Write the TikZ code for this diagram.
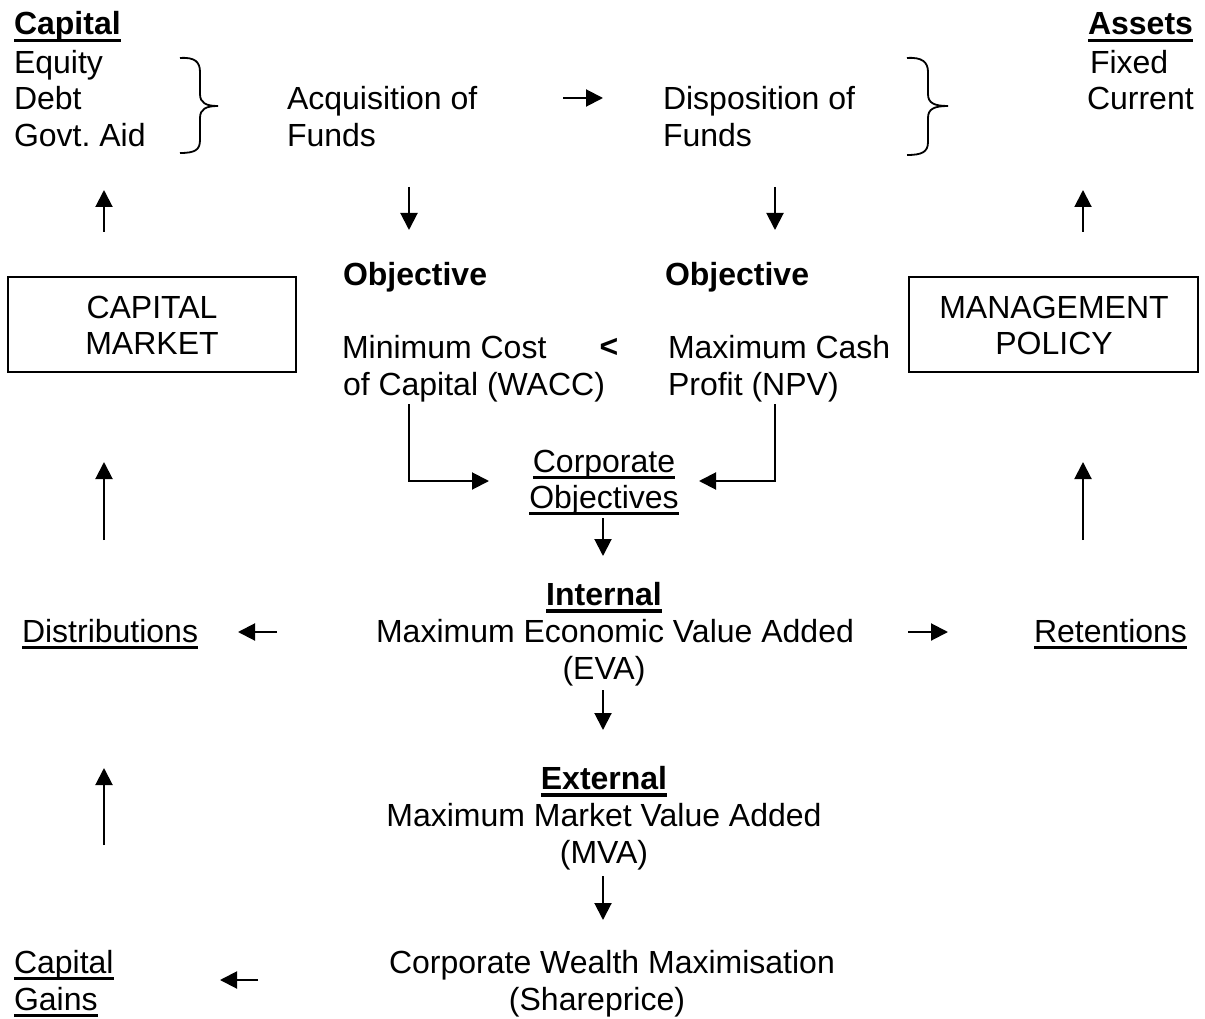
\documentclass[tikz,border=0pt]{standalone}
\usepackage{fontspec}
\setmainfont{Liberation Sans}
\usetikzlibrary{arrows.meta}
\frenchspacing
\newcommand\myul[1]{\setbox0\hbox{#1}\rlap{\rule[-6.5pt]{\wd0}{2.5pt}}\box0}
\newcommand\mybul[1]{\setbox0\hbox{#1}\rlap{\rule[-7.5pt]{\wd0}{3.2pt}}\box0}
\begin{document}
\begin{tikzpicture}[x=1pt,y=-1pt,
  txt/.style={inner sep=0pt,outer sep=0pt,font=\fontsize{32}{36.8}\selectfont},
  lt/.style={txt,anchor=base west},
  ct/.style={txt,anchor=base},
  rt/.style={txt,anchor=base east},
  arr/.style={line width=2pt,-{Triangle[length=17pt,width=17pt]}},
  brace/.style={line width=1.8pt},
  boxx/.style={draw,line width=1.6pt}]
\useasboundingbox (0,0) rectangle (1205,1019);
% top left
\node[lt] (cap) at (14,35) {\mybul{\textbf{Capital}}};
\node[lt] (eq) at (14,74) {Equity};
\node[lt] (debt) at (14,110) {Debt};
\node[lt] (govt) at (14,147) {Govt.\ Aid};
\draw[brace] (180,58) .. controls (195,57) and (200,62) .. (200,72) -- (200,94)
  .. controls (200,103) and (206,106) .. (218,106)
  .. controls (206,106) and (200,109) .. (200,118) -- (200,140)
  .. controls (200,150) and (195,153) .. (180,153);
\node[lt] (acq1) at (287,110) {Acquisition of};
\node[lt] (acq2) at (287,147) {Funds};
\coordinate (a5s) at (563,98); \coordinate (a5e) at (603,98);
\draw[arr] (a5s) -- (a5e);
\node[lt] (dis1) at (663,110) {Disposition of};
\node[lt] (dis2) at (663,147) {Funds};
\draw[brace] (907,58) .. controls (922,57) and (928,62) .. (928,72) -- (928,94)
  .. controls (928,103) and (934,106) .. (948,106)
  .. controls (934,106) and (928,109) .. (928,118) -- (928,142)
  .. controls (928,152) and (922,155) .. (907,155);
\node[rt] (assets) at (1193,35) {\mybul{\textbf{Assets}}};
\node[lt] (fixed) at (1090,74) {Fixed};
\node[lt] (curr) at (1087,110) {Current};
% vertical arrows row 1
\coordinate (a1s) at (104,232); \coordinate (a1e) at (104,190);
\coordinate (a2s) at (409,187); \coordinate (a2e) at (409,230);
\coordinate (a3s) at (775,187); \coordinate (a3e) at (775,230);
\coordinate (a4s) at (1083,232); \coordinate (a4e) at (1083,190);
\draw[arr] (a1s) -- (a1e);
\draw[arr] (a2s) -- (a2e);
\draw[arr] (a3s) -- (a3e);
\draw[arr] (a4s) -- (a4e);
% boxes
\node[boxx,minimum width=288pt,minimum height=95pt,inner sep=0pt] (cm) at (152,324.5) {};
\node[ct] (cm1) at (152,318) {CAPITAL};
\node[ct] (cm2) at (152,354) {MARKET};
\node[boxx,minimum width=289pt,minimum height=95pt,inner sep=0pt] (mp) at (1053.5,324.5) {};
\node[ct] (mp1) at (1054,318) {MANAGEMENT};
\node[ct] (mp2) at (1054,354) {POLICY};
% objectives
\node[lt] (obj1) at (343,285) {\textbf{Objective}};
\node[lt] (obj2) at (665,285) {\textbf{Objective}};
\node[lt] (min1) at (342,358) {Minimum Cost};
\node[lt] (min2) at (343,395) {of Capital (WACC)};
\node[ct] (lt) at (609,357) {\textbf{<}};
\node[lt] (max1) at (668,358) {Maximum Cash};
\node[lt] (max2) at (668,395) {Profit (NPV)};
% corporate objectives
\node[ct] (co1) at (604,472) {\myul{Corporate}};
\node[ct] (co2) at (604,508) {\myul{Objectives}};
\coordinate (e1s) at (409,404); \coordinate (e1e) at (489,481);
\coordinate (e2s) at (775,404); \coordinate (e2e) at (699,481);
\draw[arr] (e1s) |- (e1e);
\draw[arr] (e2s) |- (e2e);
\coordinate (a11s) at (603,518); \coordinate (a11e) at (603,556);
\draw[arr] (a11s) -- (a11e);
% internal
\node[ct] (int) at (604,605) {\mybul{\textbf{Internal}}};
\node[ct] (eva1) at (615,642) {Maximum Economic Value Added};
\node[ct] (eva2) at (604,679) {(EVA)};
\node[lt] (distr) at (22,642) {\myul{Distributions}};
\node[lt] (ret) at (1034,642) {\myul{Retentions}};
\coordinate (a14s) at (277,632); \coordinate (a14e) at (238,632);
\coordinate (a15s) at (908,632); \coordinate (a15e) at (948,632);
\draw[arr] (a14s) -- (a14e);
\draw[arr] (a15s) -- (a15e);
\coordinate (a6s) at (104,540); \coordinate (a6e) at (104,462);
\coordinate (a7s) at (1083,540); \coordinate (a7e) at (1083,462);
\draw[arr] (a6s) -- (a6e);
\draw[arr] (a7s) -- (a7e);
\coordinate (a12s) at (603,690); \coordinate (a12e) at (603,730);
\draw[arr] (a12s) -- (a12e);
% external
\node[ct] (ext) at (604,789) {\mybul{\textbf{External}}};
\node[ct] (mva1) at (604,826) {Maximum Market Value Added};
\node[ct] (mva2) at (604,863) {(MVA)};
\coordinate (a8s) at (104,845); \coordinate (a8e) at (104,768);
\draw[arr] (a8s) -- (a8e);
\coordinate (a13s) at (603,876); \coordinate (a13e) at (603,920);
\draw[arr] (a13s) -- (a13e);
% bottom
\node[ct] (cw1) at (612,973) {Corporate Wealth Maximisation};
\node[ct] (cw2) at (597,1010) {(Shareprice)};
\node[lt] (cg1) at (14,973) {\myul{Capital}};
\node[lt] (cg2) at (14,1010) {\myul{Gains}};
\coordinate (a16s) at (258,980); \coordinate (a16e) at (220,980);
\draw[arr] (a16s) -- (a16e);
\end{tikzpicture}
\end{document}
